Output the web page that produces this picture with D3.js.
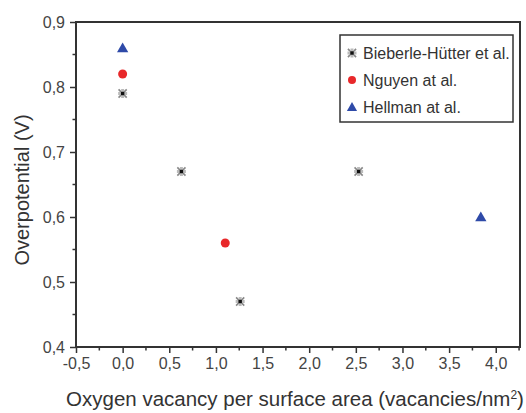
<!DOCTYPE html>
<html>
<head>
<meta charset="utf-8">
<script src="https://cdn.jsdelivr.net/npm/d3@7"></script>
<style>
  body { margin: 0; background: #fff; }
  svg { font-family: Arial, "Liberation Sans", sans-serif; }
</style>
</head>
<body>
<svg id="chart"></svg>
<script>
const bieberleX = [0, 0.63, 1.26, 2.53];
const bieberleY = [0.79, 0.67, 0.47, 0.67];
const nguyenX = [0, 1.10];
const nguyenY = [0.82, 0.56];
const hellmanX = [0, 3.84];
const hellmanY = [0.86, 0.60];

const xTicks = [-0.5, 0, 0.5, 1, 1.5, 2, 2.5, 3, 3.5, 4];
const yTicks = [0.4, 0.5, 0.6, 0.7, 0.8, 0.9];
const seriesNames = ["Bieberle-Hütter et al.", "Nguyen at al.", "Hellman at al."];

const W = 526, H = 413;
const pLeft = 76, pTop = 22, pRight = 520, pBottom = 347;

const svg = d3.select("#chart").attr("width", W).attr("height", H);

const x = d3.scaleLinear().domain([-0.5, 4.26]).range([pLeft, pRight]);
const y = d3.scaleLinear().domain([0.4, 0.9]).range([pBottom, pTop]);

const loc = d3.formatLocale({ decimal: ",", thousands: ".", grouping: [3], currency: ["", ""], minus: "-" });
const fmt = loc.format(".1f");

// frame
svg.append("rect")
  .attr("x", pLeft).attr("y", pTop)
  .attr("width", pRight - pLeft).attr("height", pBottom - pTop)
  .attr("fill", "none").attr("stroke", "#333").attr("stroke-width", 2);

// minor ticks
const xMinor = d3.range(-0.25, 4.26, 0.5);
const yMinor = d3.range(0.45, 0.9, 0.1);
svg.append("g").selectAll("line").data(xMinor).join("line")
  .attr("x1", d => x(d)).attr("x2", d => x(d))
  .attr("y1", pBottom).attr("y2", pBottom + 3.5)
  .attr("stroke", "#333").attr("stroke-width", 1.5);
svg.append("g").selectAll("line").data(yMinor).join("line")
  .attr("y1", d => y(d)).attr("y2", d => y(d))
  .attr("x1", pLeft).attr("x2", pLeft - 3.5)
  .attr("stroke", "#333").attr("stroke-width", 1.5);

// axes
const xAxis = svg.append("g")
  .attr("transform", `translate(0,${pBottom})`)
  .call(d3.axisBottom(x).tickValues(xTicks).tickFormat(fmt).tickSize(6).tickPadding(5));
const yAxis = svg.append("g")
  .attr("transform", `translate(${pLeft},0)`)
  .call(d3.axisLeft(y).tickValues(yTicks).tickFormat(fmt).tickSize(6).tickPadding(5));

[xAxis, yAxis].forEach(a => {
  a.select(".domain").remove();
  a.selectAll(".tick line").attr("stroke", "#333").attr("stroke-width", 1.5);
  a.selectAll(".tick text").attr("fill", "#444").style("font-size", "16px");
});

// titles
svg.append("text")
  .attr("x", 295).attr("y", 406)
  .attr("text-anchor", "middle")
  .attr("fill", "#333")
  .style("font-size", "20.5px")
  .html('Oxygen vacancy per surface area (vacancies/nm<tspan baseline-shift="super" style="font-size:12px">2</tspan>)');

svg.append("text")
  .attr("transform", `translate(22,190) rotate(-90)`)
  .attr("text-anchor", "middle")
  .attr("dy", "0.35em")
  .attr("fill", "#333")
  .style("font-size", "20px")
  .text("Overpotential (V)");

// markers
function drawStar(g, cx, cy) {
  g.append("path")
    .attr("transform", `translate(${cx},${cy})`)
    .attr("d", d3.symbol(d3.symbolTimes, 45)())
    .attr("fill", "none").attr("stroke", "#888").attr("stroke-width", 1.6);
  g.append("path")
    .attr("transform", `translate(${cx},${cy})`)
    .attr("d", d3.symbol(d3.symbolCross, 45)())
    .attr("fill", "#bbb");
  g.append("path")
    .attr("transform", `translate(${cx},${cy})`)
    .attr("d", d3.symbol(d3.symbolSquare, 12)())
    .attr("fill", "#111");
}

const pts = svg.append("g");
bieberleX.forEach((d, i) => drawStar(pts, x(d), y(bieberleY[i])));
pts.selectAll("circle.ng").data(nguyenX).join("circle")
  .attr("class", "ng")
  .attr("cx", d => x(d)).attr("cy", (d, i) => y(nguyenY[i]))
  .attr("r", 4.5).attr("fill", "#e8282a");
pts.selectAll("path.hm").data(hellmanX).join("path")
  .attr("class", "hm")
  .attr("transform", (d, i) => `translate(${x(d)},${y(hellmanY[i]) + 1})`)
  .attr("d", d3.symbol(d3.symbolTriangle, 55)())
  .attr("fill", "#2e4aa8");

// legend
const lg = svg.append("g");
lg.append("rect")
  .attr("x", 340).attr("y", 35).attr("width", 173).attr("height", 87)
  .attr("fill", "#fff").attr("stroke", "#333").attr("stroke-width", 1.5);
const rowY = [53, 80, 107];
drawStar(lg, 352, rowY[0]);
lg.append("circle").attr("cx", 352).attr("cy", rowY[1]).attr("r", 4).attr("fill", "#e8282a");
lg.append("path")
  .attr("transform", `translate(352,${rowY[2] + 1})`)
  .attr("d", d3.symbol(d3.symbolTriangle, 45)())
  .attr("fill", "#2e4aa8");
lg.selectAll("text").data(seriesNames).join("text")
  .attr("x", 363).attr("y", (d, i) => rowY[i] + 5.5)
  .attr("fill", "#333")
  .style("font-size", "16px")
  .text(d => d);
</script>
</body>
</html>
